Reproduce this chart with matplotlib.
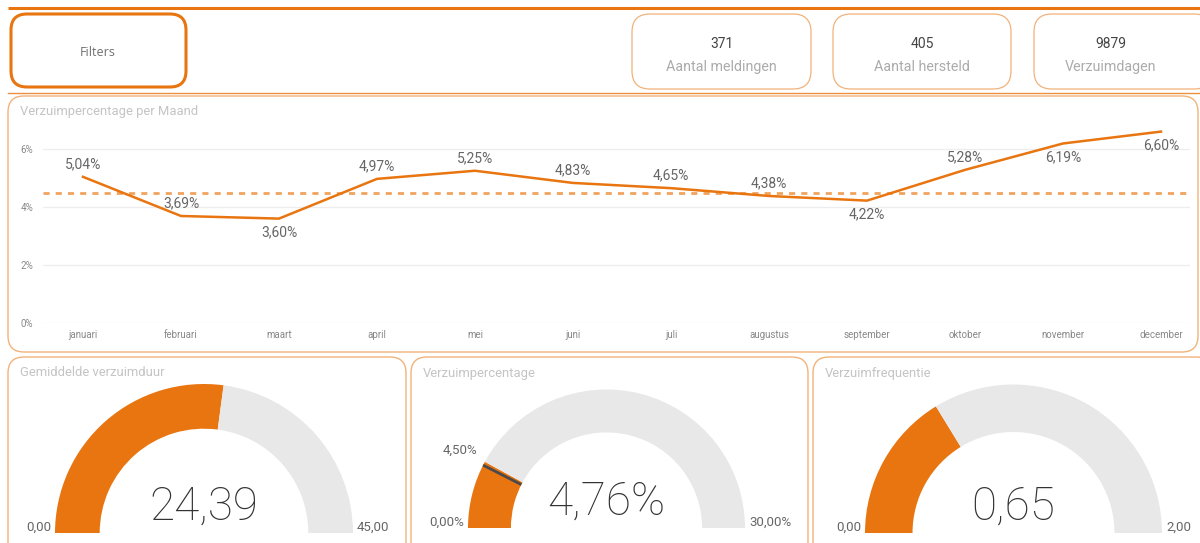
import matplotlib
matplotlib.use("Agg")
import matplotlib.pyplot as plt
from matplotlib.patches import FancyBboxPatch
import numpy as np

# ---------------- data ----------------
months = ["januari", "februari", "maart", "april", "mei", "juni", "juli",
          "augustus", "september", "oktober", "november", "december"]
pct_values = [5.04, 3.69, 3.60, 4.97, 5.25, 4.83, 4.65, 4.38, 4.22, 5.28, 6.19, 6.60]
label_above = [True, True, False, True, True, True, True, True, False, True, False, False]
target_pct = 4.5
y_ticks = [0, 2, 4, 6]

kpi_values = ["371", "405", "9879"]
kpi_labels = ["Aantal meldingen", "Aantal hersteld", "Verzuimdagen"]

gauge_titles = ["Gemiddelde verzuimduur", "Verzuimpercentage", "Verzuimfrequentie"]
gauge_values = [24.39, 4.76, 0.65]
gauge_max = [45.0, 30.0, 2.0]
gauge_value_text = ["24,39", "4,76%", "0,65"]
gauge_min_text = ["0,00", "0,00%", "0,00"]
gauge_max_text = ["45,00", "30,00%", "2,00"]
gauge_target = [None, 4.5, None]
gauge_target_text = [None, "4,50%", None]

# ---------------- style ----------------
W, H = 1200, 543
ORANGE = "#E8750F"
LIGHT_OR = "#F2B27A"
GRAY_TXT = "#666666"
LIGHT_TXT = "#C4C4C4"
ARC_GRAY = "#E8E8E8"
FONT = "Roboto"

fig = plt.figure(figsize=(W / 100, H / 100), dpi=100)
bg = fig.add_axes([0, 0, 1, 1])
bg.set_xlim(0, W)
bg.set_ylim(H, 0)
bg.axis("off")


def box(x0, y0, x1, y1, color, lw, r=15):
    p = FancyBboxPatch((x0, y0), x1 - x0, y1 - y0,
                       boxstyle=f"round,pad=0,rounding_size={r}",
                       fc="white", ec=color, lw=lw, zorder=1)
    bg.add_patch(p)


def fx(px):
    return px / W


def fy(py):
    return (H - py) / H


# top lines
bg.plot([8, W], [8, 8], color=ORANGE, lw=2.2, solid_capstyle="butt", zorder=2)
bg.plot([8, W], [92.5, 92.5], color=ORANGE, lw=1.0, alpha=0.8, zorder=2)

# filters box
box(11, 14, 186, 87, ORANGE, 2.2, r=16)
bg.text(98, 52, "Filters", ha="center", va="center", fontsize=9,
        color="#707070", family="Open Sans")

# KPI cards
card_x = [(632, 811), (833, 1011), (1034, 1212)]
for (x0, x1), v, lab in zip(card_x, kpi_values, kpi_labels):
    box(x0, 14, x1, 89, LIGHT_OR, 0.9, r=18)
    cx = (x0 + x1) / 2 if x1 < W else 1111
    bg.text(cx, 44, v, ha="center", va="center", fontsize=10, color="#444444", family=FONT)
    bg.text(cx, 67, lab, ha="center", va="center", fontsize=10.3, color="#ABABAB", family=FONT)

# line chart panel
box(8, 96, 1198, 352, LIGHT_OR, 1.0, r=16)
bg.text(20, 111, "Verzuimpercentage per Maand", ha="left", va="center",
        fontsize=9.4, color=LIGHT_TXT, family=FONT)

# gauge panels
gpanels = [(8, 406), (411, 808), (813, 1212)]
for (x0, x1), t in zip(gpanels, gauge_titles):
    box(x0, 357, x1, 560, LIGHT_OR, 1.0, r=16)
    bg.text(x0 + 12, 373, t, ha="left", va="center", fontsize=9.4,
            color=LIGHT_TXT, family=FONT)

# ---------------- line chart ----------------
x_left, x_right = 43, 1190
y_top, y_bot = 120, 323
ax = fig.add_axes([fx(x_left), fy(y_bot), fx(x_right - x_left), (y_bot - y_top) / H])
ax.patch.set_alpha(0)
xs = np.arange(len(months))
x0_px, step = 83, 98
ax.set_xlim((x_left - x0_px) / step, (x_right - x0_px) / step)
ax.set_ylim(0, (y_bot - y_top) / 29.0)
for s in ax.spines.values():
    s.set_visible(False)
ax.set_yticks(y_ticks)
ax.set_yticklabels([f"{t}%" for t in y_ticks])
ax.grid(axis="y", color="#EDEDED", lw=0.9)
ax.set_axisbelow(True)
ax.set_xticks(xs)
ax.set_xticklabels(months)
ax.tick_params(axis="both", length=0, labelsize=7, labelcolor="#888888")
ax.tick_params(axis="y", pad=7)
ax.tick_params(axis="x", pad=5)
for lbl in ax.get_xticklabels() + ax.get_yticklabels():
    lbl.set_family(FONT)
ax.axhline(target_pct, color="#F0A45E", lw=2, ls=(0, (2.2, 2.2)), zorder=2)
ax.plot(xs, pct_values, color=ORANGE, lw=1.8, zorder=3)
for x, v, up in zip(xs, pct_values, label_above):
    ax.annotate(f"{v:.2f}%".replace(".", ","), (x, v),
                xytext=(0, 9 if up else -10), textcoords="offset points",
                ha="center", va="center", fontsize=10, color=GRAY_TXT, family=FONT)

# ---------------- gauges ----------------
centers = [(204, 533, 149, 0.30), (606.5, 528, 138.5, 0.31), (1013.5, 533, 148.5, 0.32)]
for i, (cx, cy, R, wfrac) in enumerate(centers):
    gax = fig.add_axes([fx(cx - R), fy(cy + R), 2 * R / W, 2 * R / H])
    gax.axis("off")
    v, mx = gauge_values[i], gauge_max[i]
    wedges, _ = gax.pie([v, mx - v, mx], startangle=180, counterclock=False,
                        colors=[ORANGE, ARC_GRAY, "white"], radius=1,
                        wedgeprops=dict(width=wfrac, linewidth=0))
    wedges[2].set_visible(False)
    gax.set_xlim(-1, 1)
    gax.set_ylim(-1, 1)
    if gauge_target[i] is not None:
        ang = np.pi * (1 - gauge_target[i] / mx)
        r0, r1 = 1 - wfrac, 1
        gax.plot([r0 * np.cos(ang), r1 * np.cos(ang)], [r0 * np.sin(ang), r1 * np.sin(ang)],
                 color="#4A4A4A", lw=2, solid_capstyle="butt")
        gax.text(1.02 * np.cos(ang) - 0.02, 1.02 * np.sin(ang) + 0.1, gauge_target_text[i],
                 ha="right", va="center", fontsize=9.5, color=GRAY_TXT, family=FONT)
    # labels
    bg.text(cx, cy - 26, gauge_value_text[i], ha="center", va="center", fontsize=33,
            color="#333333", family="Roboto", fontweight="light")
    bg.text(cx - R - 4, cy - 6, gauge_min_text[i], ha="right", va="center",
            fontsize=9.5, color=GRAY_TXT, family=FONT)
    bg.text(cx + R + 4, cy - 6, gauge_max_text[i], ha="left", va="center",
            fontsize=9.5, color=GRAY_TXT, family=FONT)

fig.savefig("out.png", dpi=100)
